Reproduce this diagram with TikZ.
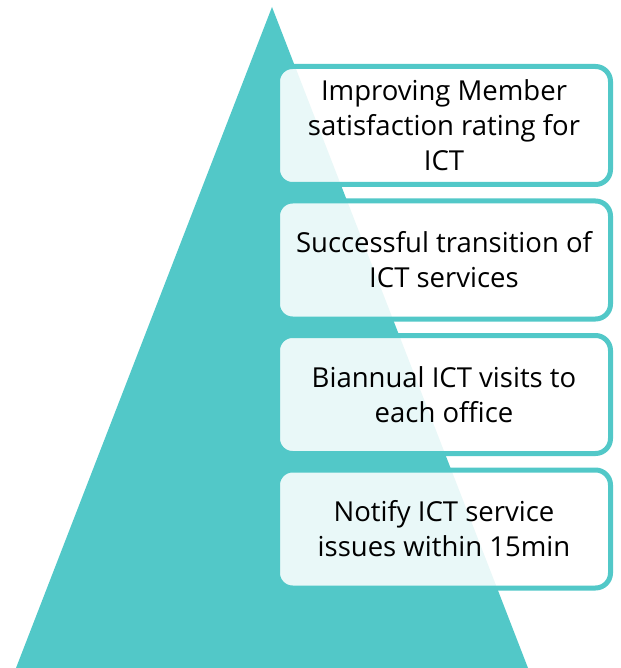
\documentclass[tikz,border=0pt]{standalone}
\usepackage{fontspec}
\setmainfont{Open Sans}
\usetikzlibrary{positioning}
\definecolor{pyrteal}{RGB}{82,200,200}

\begin{document}
\begin{tikzpicture}[x=1pt, y=-1pt,
        goal/.style={draw=pyrteal, line width=5pt, fill=white, fill opacity=0.88, text opacity=1,
            rounded corners=15pt, minimum width=333pt, minimum height=118pt, inner sep=0pt,
            align=center, font=\fontsize{27.5}{35}\selectfont}]
        \useasboundingbox (0,0) rectangle (620,668);
        \fill[pyrteal] (272,7) -- (528,668) -- (16,668) -- cycle;
        \node[goal] (g1) at (444,125.5) {Improving Member\\satisfaction rating for\\ICT};
        \node[goal, below=11.5pt of g1] (g2) {Successful transition of\\ICT services};
        \node[goal, below=11.5pt of g2] (g3) {Biannual ICT visits to\\each office};
        \node[goal, below=11.5pt of g3] (g4) {Notify ICT service\\issues within 15min};
    \end{tikzpicture}
\end{document}
